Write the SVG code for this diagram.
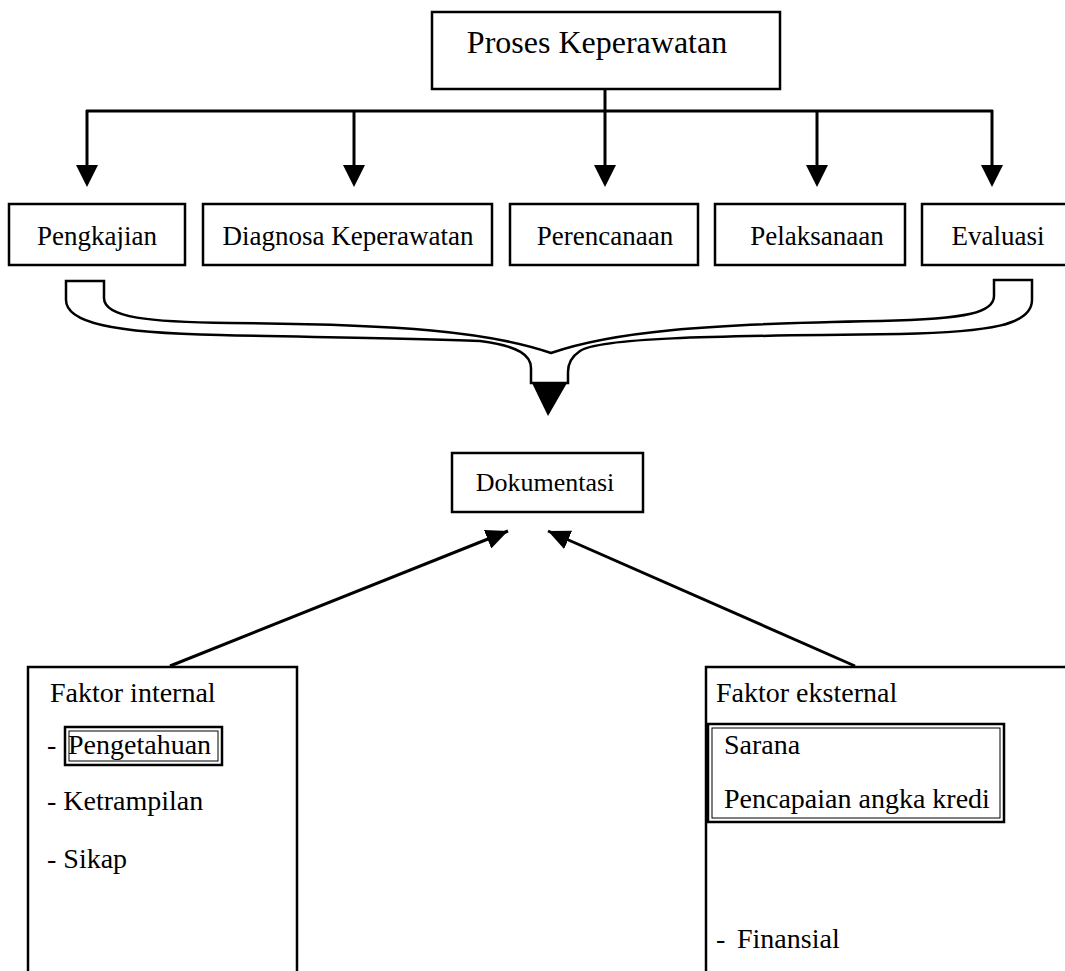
<svg xmlns="http://www.w3.org/2000/svg" width="1065" height="971" viewBox="0 0 1065 971">
<style>
.box{fill:#fff;stroke:#000;stroke-width:2.5}
.t{font-family:"Liberation Serif","Times New Roman",serif;fill:#000}
.c{stroke:#000;stroke-width:3;fill:none}
</style>
<defs>
<marker id="ah" markerUnits="userSpaceOnUse" markerWidth="24" markerHeight="20" refX="22" refY="10" orient="auto">
<path d="M0,0 L22,10 L0,20 Z" fill="#000"/>
</marker>
</defs>
<rect width="1065" height="971" fill="#fff"/>
<g id="connectors">
<line class="c" x1="605" y1="89" x2="605" y2="111"/>
<line class="c" x1="86" y1="111" x2="993" y2="111"/>
<line class="c" x1="87" y1="110" x2="87" y2="166"/>
<polygon points="76,165 98,165 87,187"/>
<line class="c" x1="354" y1="110" x2="354" y2="166"/>
<polygon points="343,165 365,165 354,187"/>
<line class="c" x1="605" y1="110" x2="605" y2="166"/>
<polygon points="594,165 616,165 605,187"/>
<line class="c" x1="817" y1="110" x2="817" y2="166"/>
<polygon points="806,165 828,165 817,187"/>
<line class="c" x1="992" y1="110" x2="992" y2="166"/>
<polygon points="981,165 1003,165 992,187"/>
<path id="brace" d="M66,281 L104,281 L104,298 C104,318 150,322 230,323 C400,324 490,332 551,353 C612,332 700,324 880,321 C970,319 994,312 994,296 L994,280 L1032,280 L1032,300 C1032,325 990,332 900,334 C700,336 600,338 580,351 C571,357 568,364 568,372 L568,383 L531,383 L531,368 C531,356 520,346 480,341 C400,338 300,337 220,335 C110,333 66,322 66,300 Z" fill="#fff" stroke="#000" stroke-width="2.5"/>
<polygon points="532,383 567,383 548,416"/>
<line class="c" x1="170" y1="666" x2="508" y2="531" marker-end="url(#ah)"/>
<line class="c" x1="855" y1="666" x2="548" y2="531" marker-end="url(#ah)"/>
</g>
<g id="proses">
<rect class="box" x="432" y="12" width="348" height="77"/>
<text class="t" x="597" y="53" font-size="32" text-anchor="middle">Proses Keperawatan</text>
</g>
<g id="pengkajian">
<rect class="box" x="9" y="204" width="176" height="61"/>
<text class="t" x="97" y="245" font-size="27" text-anchor="middle">Pengkajian</text>
</g>
<g id="diagnosa">
<rect class="box" x="203" y="204" width="289" height="61"/>
<text class="t" x="348" y="245" font-size="27" text-anchor="middle">Diagnosa Keperawatan</text>
</g>
<g id="perencanaan">
<rect class="box" x="510" y="204" width="188" height="61"/>
<text class="t" x="605" y="245" font-size="27" text-anchor="middle">Perencanaan</text>
</g>
<g id="pelaksanaan">
<rect class="box" x="715" y="204" width="190" height="61"/>
<text class="t" x="817" y="245" font-size="27" text-anchor="middle">Pelaksanaan</text>
</g>
<g id="evaluasi">
<rect class="box" x="922" y="204" width="160" height="61"/>
<text class="t" x="998" y="245" font-size="27" text-anchor="middle">Evaluasi</text>
</g>
<g id="dokumentasi">
<rect class="box" x="452" y="453" width="191" height="59"/>
<text class="t" x="545" y="491" font-size="26" text-anchor="middle">Dokumentasi</text>
</g>
<g id="faktor-internal">
<rect class="box" x="28" y="667" width="269" height="330"/>
<text class="t" x="50" y="702" font-size="28">Faktor internal</text>
<text class="t" x="47" y="754" font-size="28">-</text>
<rect x="65" y="727" width="157" height="38" fill="none" stroke="#000" stroke-width="2.5"/>
<rect x="69" y="731" width="149" height="30" fill="none" stroke="#000" stroke-width="1"/>
<text class="t" x="68" y="754" font-size="28">Pengetahuan</text>
<text class="t" x="47" y="810" font-size="28">- Ketrampilan</text>
<text class="t" x="47" y="868" font-size="28">- Sikap</text>
</g>
<g id="faktor-eksternal">
<rect class="box" x="706" y="667" width="400" height="330"/>
<text class="t" x="716" y="702" font-size="28">Faktor eksternal</text>
<rect x="708" y="724" width="296" height="98" fill="none" stroke="#000" stroke-width="2.5"/>
<rect x="712" y="728" width="288" height="90" fill="none" stroke="#000" stroke-width="1"/>
<text class="t" x="724" y="754" font-size="28">Sarana</text>
<text class="t" x="724" y="808" font-size="28">Pencapaian angka kredi</text>
<text class="t" x="716" y="948" font-size="28">-</text>
<text class="t" x="737" y="948" font-size="28">Finansial</text>
</g>
</svg>
